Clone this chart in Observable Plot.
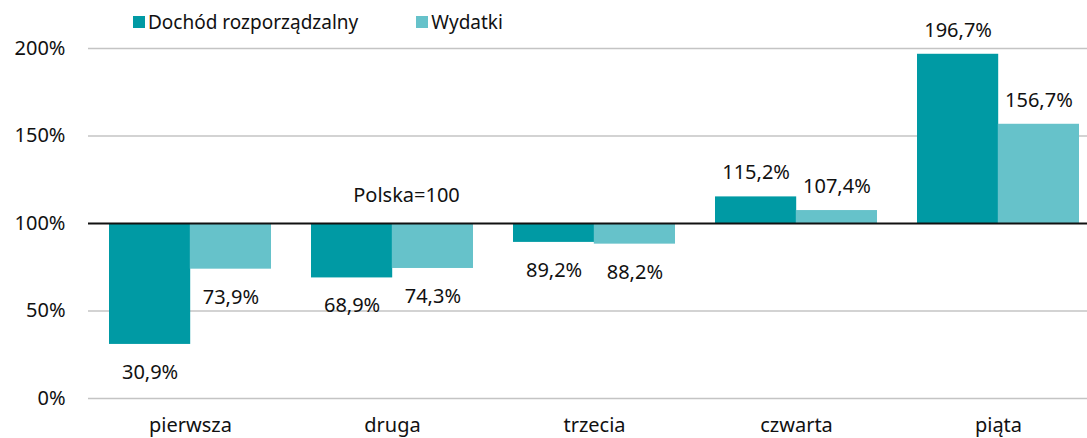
<!DOCTYPE html>
<html>
<head>
<meta charset="utf-8">
<script src="https://cdn.jsdelivr.net/npm/d3@7"></script>
<script src="https://cdn.jsdelivr.net/npm/@observablehq/plot@0.6"></script>
<style>
  body { margin: 0; background: #fff; font-family: "Noto Sans", sans-serif; }
  #wrap { position: relative; width: 1087px; height: 438px; }
  #legend { position: absolute; top: 9px; left: 133px; display: flex; gap: 0; font-size: 19px; color: #111; }
  .item { display: flex; align-items: center; }
  .sw { width: 12px; height: 12px; margin-right: 3px; }
</style>
</head>
<body>
<div id="wrap">
  <div id="chart"></div>
  <div id="legend"></div>
</div>
<script>
const categories = ["pierwsza", "druga", "trzecia", "czwarta", "piąta"];
const seriesNames = ["Dochód rozporządzalny", "Wydatki"];
const dochod = [30.9, 68.9, 89.2, 115.2, 196.7];
const wydatki = [73.9, 74.3, 88.2, 107.4, 156.7];
const yTicks = [0, 50, 100, 150, 200];
const colors = ["#009aa4", "#66c2ca"];
const baseline = 100;

const rows = [];
categories.forEach((c, i) => {
  rows.push({cat: c, series: seriesNames[0], value: dochod[i], s: 0});
  rows.push({cat: c, series: seriesNames[1], value: wydatki[i], s: 1});
});
const fmt = v => v.toFixed(1).replace(".", ",") + "%";

const W = 1087, H = 438;
const bandStep = 202;
const bw = bandStep * 0.8;
const half = bw / 2;

const above = rows.filter(d => d.value >= baseline);
const below = rows.filter(d => d.value < baseline);

const chart = Plot.plot({
  width: W,
  height: H,
  marginLeft: 88,
  marginRight: 0,
  marginTop: 48,
  marginBottom: 40,
  style: {fontFamily: "Noto Sans, sans-serif", fontSize: "20px", color: "#111", background: "#fff"},
  x: {domain: categories, range: [89, 1099], paddingInner: 0.2, paddingOuter: 0.1, label: null, tickSize: 0, tickPadding: 19},
  y: {domain: [0, 200], ticks: yTicks, tickFormat: d => d + "%", label: null, tickSize: 0, tickPadding: 23},
  marks: [
    Plot.ruleY(yTicks.filter(t => t !== baseline), {stroke: "#c4c4c4", strokeWidth: 1.5}),
    Plot.barY(rows.filter(d => d.s === 0), {x: "cat", y1: baseline, y2: "value", fill: colors[0], insetRight: half, insetLeft: 0}),
    Plot.barY(rows.filter(d => d.s === 1), {x: "cat", y1: baseline, y2: "value", fill: colors[1], insetLeft: half, insetRight: 0}),
    Plot.ruleY([baseline], {stroke: "#111", strokeWidth: 2}),
    Plot.text(above.filter(d => d.s === 0), {x: "cat", y: "value", text: d => fmt(d.value), dx: -half / 2, dy: -24, fill: "#111"}),
    Plot.text(above.filter(d => d.s === 1), {x: "cat", y: "value", text: d => fmt(d.value), dx: half / 2, dy: -24, fill: "#111"}),
    Plot.text(below.filter(d => d.s === 0), {x: "cat", y: "value", text: d => fmt(d.value), dx: -half / 2, dy: 28, fill: "#111"}),
    Plot.text(below.filter(d => d.s === 1), {x: "cat", y: "value", text: d => fmt(d.value), dx: half / 2, dy: 28, fill: "#111"}),
    Plot.text(["Polska=100"], {x: () => "druga", y: () => baseline, text: d => d, dx: 14, dy: -28, fill: "#111"})
  ]
});
document.getElementById("chart").appendChild(chart);

const legend = document.getElementById("legend");
seriesNames.forEach((n, i) => {
  const it = document.createElement("div");
  it.className = "item";
  it.style.marginRight = i === 0 ? "58px" : "0";
  const sw = document.createElement("div");
  sw.className = "sw";
  sw.style.background = colors[i];
  const t = document.createElement("span");
  t.textContent = n;
  it.appendChild(sw);
  it.appendChild(t);
  legend.appendChild(it);
});
</script>
</body>
</html>
